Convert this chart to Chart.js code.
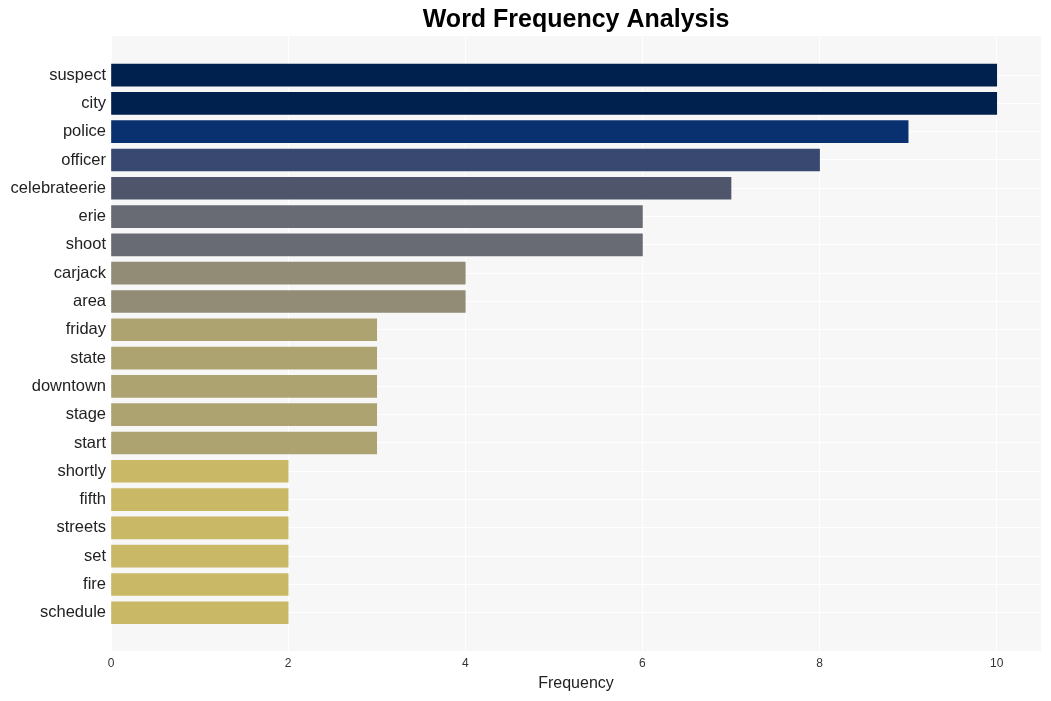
<!DOCTYPE html>
<html>
<head>
<meta charset="utf-8">
<script src="https://cdn.jsdelivr.net/npm/chart.js@4.4.1/dist/chart.umd.min.js"></script>
<style>
    html, body { margin: 0; padding: 0; background: #ffffff; }
    #wrap { width: 1051px; height: 701px; position: relative; }
</style>
</head>
<body>
<div id="wrap"><canvas id="freq-chart"></canvas></div>
<script>
// Data
const words = ['suspect', 'city', 'police', 'officer', 'celebrateerie', 'erie', 'shoot', 'carjack', 'area',
    'friday', 'state', 'downtown', 'stage', 'start', 'shortly', 'fifth', 'streets', 'set', 'fire', 'schedule'];
const counts = [10, 10, 9, 8, 7, 6, 6, 4, 4, 3, 3, 3, 3, 3, 2, 2, 2, 2, 2, 2];
const barColors = ['#00204d', '#00204d', '#093170', '#384870', '#4f566b', '#686b73', '#686b73', '#928c77', '#928c77',
    '#ada370', '#ada370', '#ada370', '#ada370', '#ada370', '#c9b866', '#c9b866', '#c9b866', '#c9b866', '#c9b866', '#c9b866'];
const xTicks = [0, 2, 4, 6, 8, 10];
const chartTitle = 'Word Frequency Analysis';
const xTitle = 'Frequency';

// Panel background + title centred over the plot
const panelPlugin = {
    id: 'panel',
    beforeDraw(chart) {
        const { ctx, chartArea: a } = chart;
        ctx.save();
        ctx.fillStyle = '#f7f7f7';
        ctx.fillRect(a.left, a.top, a.right - a.left, a.bottom - a.top);
        ctx.restore();
    },
    afterDraw(chart) {
        const { ctx, chartArea: a } = chart;
        ctx.save();
        ctx.fillStyle = '#000000';
        ctx.font = 'bold 25px "Liberation Sans", Arial, sans-serif';
        ctx.textAlign = 'center';
        ctx.textBaseline = 'middle';
        ctx.fillText(chartTitle, (a.left + a.right) / 2, 20);
        ctx.restore();
    }
};

const chart = new Chart(document.getElementById('freq-chart'), {
    type: 'bar',
    data: {
        datasets: [{
            data: counts.map((c, i) => ({ x: c, y: i })),
            backgroundColor: barColors,
            borderWidth: 0,
            barThickness: 22
        }]
    },
    plugins: [panelPlugin],
    options: {
        indexAxis: 'y',
        responsive: true,
        maintainAspectRatio: false,
        animation: false,
        layout: { padding: { top: 36, right: 10, left: 0, bottom: 0 } },
        plugins: {
            legend: { display: false },
            tooltip: { enabled: false }
        },
        scales: {
            x: {
                type: 'linear',
                bounds: 'data',
                min: 0,
                max: 10.5,
                afterBuildTicks: (scale) => { scale.ticks = xTicks.map(v => ({ value: v })); },
                afterFit: (scale) => { scale.height = 50; },
                grid: { color: '#ffffff', lineWidth: 1, drawTicks: false },
                border: { display: false },
                ticks: {
                    padding: 5,
                    color: '#333333',
                    font: { family: '"Liberation Sans", Arial, sans-serif', size: 12 }
                },
                title: {
                    display: true,
                    text: xTitle,
                    color: '#222222',
                    padding: { top: 4, bottom: 8 },
                    font: { family: '"Liberation Sans", Arial, sans-serif', size: 16 }
                }
            },
            y: {
                type: 'linear',
                bounds: 'data',
                offset: false,
                reverse: true,
                min: -1.38,
                max: 20.35,
                afterBuildTicks: (scale) => { scale.ticks = words.map((w, i) => ({ value: i })); },
                afterFit: (scale) => { scale.width = 111; },
                grid: { color: '#ffffff', lineWidth: 1, drawTicks: false, offset: false },
                border: { display: false },
                ticks: {
                    padding: 5,
                    color: '#222222',
                    autoSkip: false,
                    font: { family: '"Liberation Sans", Arial, sans-serif', size: 16.5 },
                    callback: (value) => words[value] ?? ''
                }
            }
        }
    }
});
</script>
</body>
</html>
